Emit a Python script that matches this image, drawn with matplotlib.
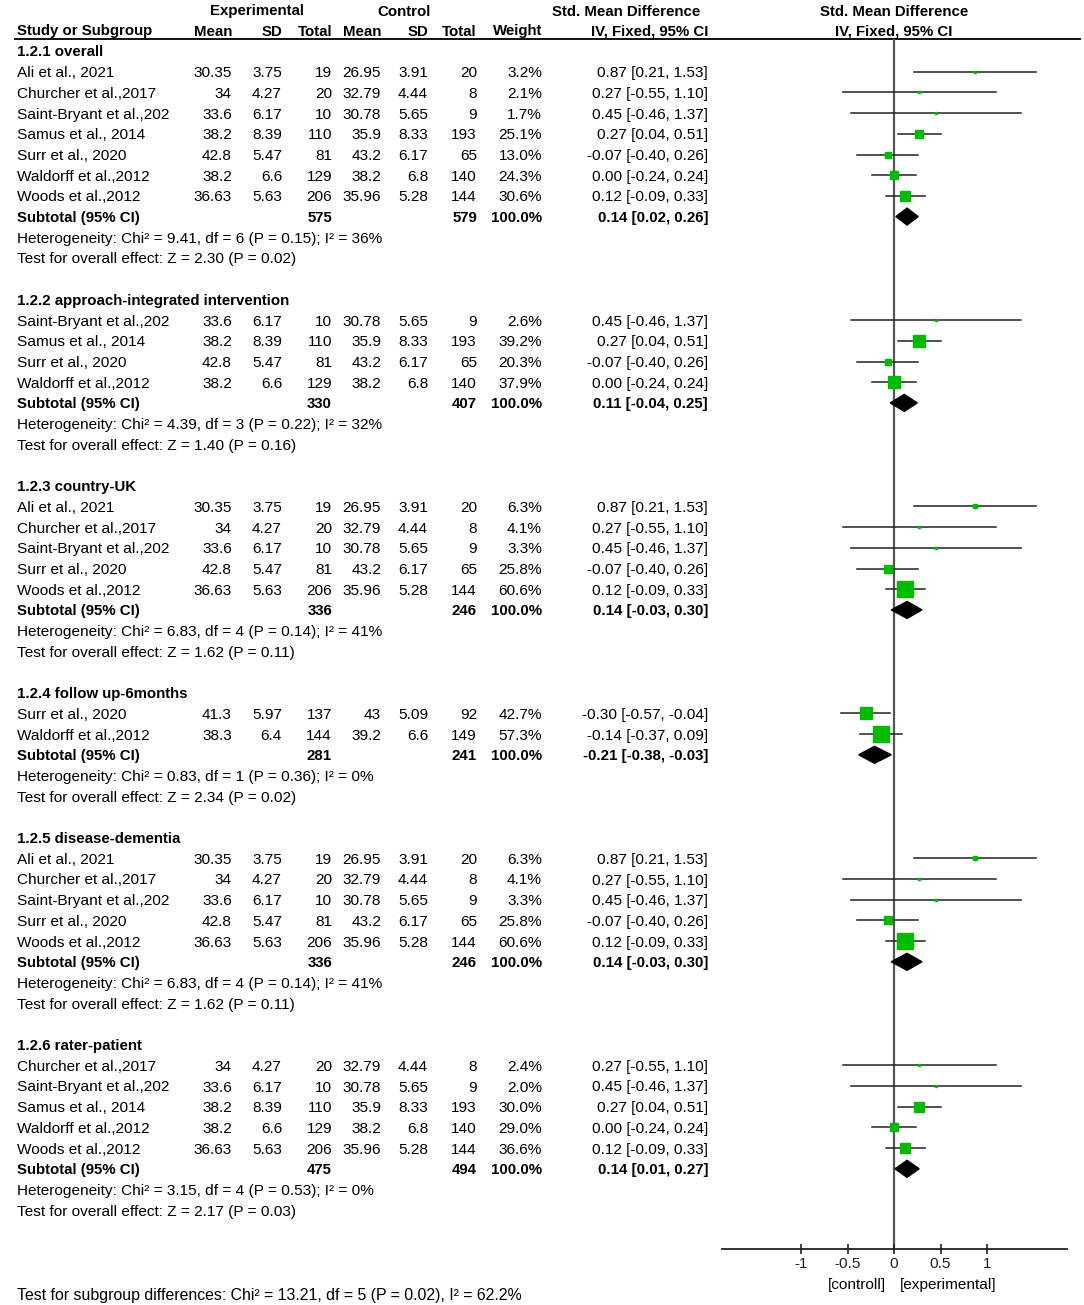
import numpy as np
import matplotlib
matplotlib.use("Agg")
import matplotlib.pyplot as plt

plt.rcParams['font.family'] = ['Liberation Sans', 'DejaVu Sans']
FS = 11.1
FSB = 10.8

# study table (last two rows are the 6-month follow-up values)
study = ["Ali et al., 2021", "Churcher et al.,2017", "Saint-Bryant et al.,202",
         "Samus et al., 2014", "Surr et al., 2020", "Waldorff et al.,2012",
         "Woods et al.,2012", "Surr et al., 2020", "Waldorff et al.,2012"]
e_mean = ["30.35", "34", "33.6", "38.2", "42.8", "38.2", "36.63", "41.3", "38.3"]
e_sd = ["3.75", "4.27", "6.17", "8.39", "5.47", "6.6", "5.63", "5.97", "6.4"]
e_n = [19, 20, 10, 110, 81, 129, 206, 137, 144]
c_mean = ["26.95", "32.79", "30.78", "35.9", "43.2", "38.2", "35.96", "43", "39.2"]
c_sd = ["3.91", "4.44", "5.65", "8.33", "6.17", "6.8", "5.28", "5.09", "6.6"]
c_n = [20, 8, 9, 193, 65, 140, 144, 92, 149]
smd = [0.87, 0.27, 0.45, 0.27, -0.07, 0.00, 0.12, -0.30, -0.14]
ci_lo = [0.21, -0.55, -0.46, 0.04, -0.40, -0.24, -0.09, -0.57, -0.37]
ci_hi = [1.53, 1.10, 1.37, 0.51, 0.26, 0.24, 0.33, -0.04, 0.09]

# subgroups
sub_titles = ["1.2.1 overall", "1.2.2 approach-integrated intervention",
              "1.2.3 country-UK", "1.2.4 follow up-6months",
              "1.2.5 disease-dementia", "1.2.6 rater-patient"]
sub_members = [[0, 1, 2, 3, 4, 5, 6], [2, 3, 4, 5], [0, 1, 2, 4, 6],
               [7, 8], [0, 1, 2, 4, 6], [1, 2, 3, 5, 6]]
sub_weights = [[3.2, 2.1, 1.7, 25.1, 13.0, 24.3, 30.6],
               [2.6, 39.2, 20.3, 37.9],
               [6.3, 4.1, 3.3, 25.8, 60.6],
               [42.7, 57.3],
               [6.3, 4.1, 3.3, 25.8, 60.6],
               [2.4, 2.0, 30.0, 29.0, 36.6]]
sub_e_total = [575, 330, 336, 281, 336, 475]
sub_c_total = [579, 407, 246, 241, 246, 494]
sub_smd = [0.14, 0.11, 0.14, -0.21, 0.14, 0.14]
sub_lo = [0.02, -0.04, -0.03, -0.38, -0.03, 0.01]
sub_hi = [0.26, 0.25, 0.30, -0.03, 0.30, 0.27]
sub_het = ["Chi\u00b2 = 9.41, df = 6 (P = 0.15); I\u00b2 = 36%",
           "Chi\u00b2 = 4.39, df = 3 (P = 0.22); I\u00b2 = 32%",
           "Chi\u00b2 = 6.83, df = 4 (P = 0.14); I\u00b2 = 41%",
           "Chi\u00b2 = 0.83, df = 1 (P = 0.36); I\u00b2 = 0%",
           "Chi\u00b2 = 6.83, df = 4 (P = 0.14); I\u00b2 = 41%",
           "Chi\u00b2 = 3.15, df = 4 (P = 0.53); I\u00b2 = 0%"]
sub_z = ["Z = 2.30 (P = 0.02)", "Z = 1.40 (P = 0.16)", "Z = 1.62 (P = 0.11)",
         "Z = 2.34 (P = 0.02)", "Z = 1.62 (P = 0.11)", "Z = 2.17 (P = 0.03)"]
subgroup_test = "Test for subgroup differences: Chi\u00b2 = 13.21, df = 5 (P = 0.02), I\u00b2 = 62.2%"

ticks = [-1, -0.5, 0, 0.5, 1]


def row_y(r):
    return 51 + 20.7 * r


fig = plt.figure(figsize=(10.84, 13.05), dpi=100)
ax = fig.add_axes([0, 0, 1, 1])
ax.set_xlim(0, 1084)
ax.set_ylim(1305, 0)
ax.axis('off')

fx = fig.add_axes([722 / 1084, (1305 - 1249) / 1305, 345 / 1084, (1249 - 39) / 1305])
fx.set_xlim(-1.85, 1.86)
fx.set_ylim(1249, 39)
fx.patch.set_alpha(0)
for s in ['top', 'left', 'right']:
    fx.spines[s].set_visible(False)
fx.spines['bottom'].set_linewidth(1.3)
fx.spines['bottom'].set_color('#222222')
fx.set_yticks([])
fx.set_xticks(ticks)
fx.set_xticklabels(['-1', '-0.5', '0', '0.5', '1'])
fx.tick_params(axis='x', direction='inout', length=7, width=1.2, pad=2, labelsize=FS, colors='#222222')
fx.axvline(0, color='#555555', lw=1.6, zorder=1)

# headers
VA = 'center_baseline'
hdr = dict(fontsize=FSB, fontweight='bold', va=VA)
ax.text(257, 10, "Experimental", ha='center', **hdr)
ax.text(404, 10, "Control", ha='center', **hdr)
ax.text(626, 10, "Std. Mean Difference", ha='center', **hdr)
ax.text(894, 10, "Std. Mean Difference", ha='center', **hdr)
ax.text(17, 30, "Study or Subgroup", ha='left', **hdr)
for x, s in [(232, "Mean"), (282, "SD"), (332, "Total"), (381, "Mean"),
             (428, "SD"), (477, "Total"), (542, "Weight"), (708, "IV, Fixed, 95% CI")]:
    ax.text(x, 30, s, ha='right', **hdr)
ax.text(894, 30, "IV, Fixed, 95% CI", ha='center', **hdr)
ax.plot([15, 1080], [39, 39], color='#111111', lw=1.4)

col_x = [232, 282, 332, 381, 428, 477, 542, 708]

row = 0
for g in range(len(sub_titles)):
    ax.text(17, row_y(row), sub_titles[g], fontsize=FSB, fontweight='bold', va=VA)
    row += 1
    for k, i in enumerate(sub_members[g]):
        y = row_y(row)
        w = sub_weights[g][k]
        ax.text(17, y, study[i], fontsize=FS, va=VA)
        vals = [e_mean[i], e_sd[i], str(e_n[i]), c_mean[i], c_sd[i], str(c_n[i]),
                f"{w:.1f}%", f"{smd[i]:.2f} [{ci_lo[i]:.2f}, {ci_hi[i]:.2f}]"]
        for x, s in zip(col_x, vals):
            ax.text(x, y, s, fontsize=FS, va=VA, ha='right')
        fx.plot([ci_lo[i], ci_hi[i]], [y, y], color='#222222', lw=1.1, zorder=2)
        fx.plot(smd[i], y, marker='s', color='#00bb00', mec='#00bb00',
                ms=(2 + 0.24 * w) / 1.389, zorder=3)
        row += 1
    # subtotal
    y = row_y(row)
    b = dict(fontsize=FSB, fontweight='bold', va=VA, ha='right')
    ax.text(17, y, "Subtotal (95% CI)", fontsize=FSB, fontweight='bold', va=VA)
    ax.text(332, y, str(sub_e_total[g]), **b)
    ax.text(477, y, str(sub_c_total[g]), **b)
    ax.text(542, y, "100.0%", **b)
    ax.text(708, y, f"{sub_smd[g]:.2f} [{sub_lo[g]:.2f}, {sub_hi[g]:.2f}]", **b)
    h = 8.5
    fx.fill([sub_lo[g], sub_smd[g], sub_hi[g], sub_smd[g]], [y, y - h, y, y + h],
            color='black', zorder=3)
    ax.text(17, row_y(row + 1), "Heterogeneity: " + sub_het[g], fontsize=FS, va=VA)
    ax.text(17, row_y(row + 2), "Test for overall effect: " + sub_z[g], fontsize=FS, va=VA)
    row += 4

ax.text(886, 1283, "[controll]", fontsize=FS, va=VA, ha='right')
ax.text(900, 1283, "[experimental]", fontsize=FS, va=VA, ha='left')
ax.text(17, 1294, subgroup_test, fontsize=11.4, va=VA)

fig.savefig("out.png", dpi=100)
